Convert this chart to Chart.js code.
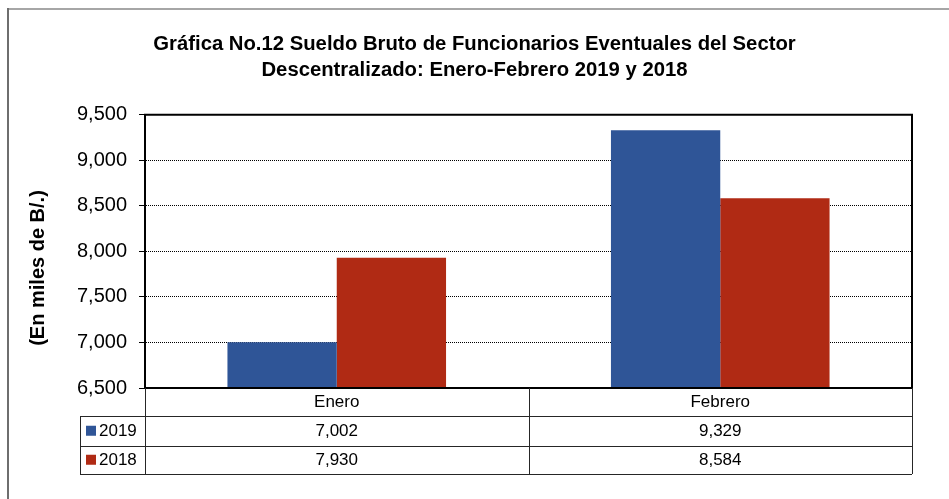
<!DOCTYPE html>
<html>
<head>
<meta charset="utf-8">
<script src="https://cdn.jsdelivr.net/npm/chart.js@4/dist/chart.umd.min.js"></script>
<style>
  html, body { margin: 0; padding: 0; background: #fff; }
  #wrap { width: 949px; height: 499px; }
</style>
</head>
<body>
<div id="wrap"><canvas id="myChart" width="949" height="499"></canvas></div>
<script>
const labels = ['Enero', 'Febrero'];
const seriesNames = ['2019', '2018'];
const values2019 = [7002, 9329];
const values2018 = [7930, 8584];
const seriesColors = ['rgb(47, 85, 151)', 'rgb(176, 42, 20)'];
const yTicks = [6500, 7000, 7500, 8000, 8500, 9000, 9500];

const fontFam = "'Liberation Sans', Arial, sans-serif";

// frame, y title and the data table under the axis
const tablePlugin = {
  id: 'tablePlugin',
  beforeDraw(chart) {
    const ctx = chart.ctx;
    ctx.save();
    ctx.fillStyle = '#fff';
    ctx.fillRect(0, 0, chart.width, chart.height);
    ctx.lineWidth = 2;
    ctx.strokeStyle = '#a6a6a6';
    ctx.beginPath();
    ctx.moveTo(8, 9);
    ctx.lineTo(chart.width, 9);
    ctx.stroke();
    ctx.strokeStyle = '#6e6e6e';
    ctx.beginPath();
    ctx.moveTo(8, 8);
    ctx.lineTo(8, chart.height);
    ctx.stroke();
    ctx.restore();
  },
  afterDatasetsDraw(chart) {
    const ctx = chart.ctx;
    const a = chart.chartArea;
    ctx.save();
    ctx.lineWidth = 2;
    ctx.strokeStyle = '#000';
    ctx.strokeRect(a.left, a.top, a.right - a.left, a.bottom - a.top);
    ctx.restore();
  },
  afterDraw(chart) {
    const ctx = chart.ctx;
    const a = chart.chartArea;
    const x = chart.scales.x;
    const all = [values2019, values2018];

    // y axis title
    ctx.save();
    ctx.translate(38, 268);
    ctx.rotate(-Math.PI / 2);
    ctx.font = 'bold 20px ' + fontFam;
    ctx.fillStyle = '#000';
    ctx.textAlign = 'center';
    ctx.textBaseline = 'middle';
    ctx.fillText('(En miles de B/.)', 0, 0);
    ctx.restore();

    const y0 = a.bottom;
    const rows = [y0 + 28, y0 + 57.5, y0 + 86];
    const keyLeft = 80;
    const mid = (x.getPixelForValue(0) + x.getPixelForValue(1)) / 2;

    ctx.save();
    ctx.strokeStyle = '#262626';
    ctx.lineWidth = 1;
    ctx.beginPath();
    [a.left, mid, a.right].forEach(function (px) {
      ctx.moveTo(Math.round(px) + 0.5, y0);
      ctx.lineTo(Math.round(px) + 0.5, rows[2]);
    });
    ctx.moveTo(keyLeft + 0.5, rows[0]);
    ctx.lineTo(keyLeft + 0.5, rows[2]);
    rows.forEach(function (py) {
      ctx.moveTo(keyLeft, Math.round(py) + 0.5);
      ctx.lineTo(a.right, Math.round(py) + 0.5);
    });
    ctx.stroke();

    ctx.font = '17px ' + fontFam;
    ctx.fillStyle = '#000';
    ctx.textBaseline = 'middle';
    for (let s = 0; s < all.length; s++) {
      const cy = (rows[s] + rows[s + 1]) / 2;
      ctx.fillStyle = seriesColors[s];
      ctx.fillRect(86, cy - 5, 10, 10);
      ctx.fillStyle = '#000';
      ctx.textAlign = 'left';
      ctx.fillText(seriesNames[s], 99, cy + 1);
      ctx.textAlign = 'center';
      for (let i = 0; i < labels.length; i++) {
        ctx.fillText(all[s][i].toLocaleString('en-US'), x.getPixelForValue(i), cy + 1);
      }
    }
    ctx.restore();
  }
};

const data = {
  labels: labels,
  datasets: [{
    label: seriesNames[0],
    backgroundColor: seriesColors[0],
    data: values2019,
  }, {
    label: seriesNames[1],
    backgroundColor: seriesColors[1],
    data: values2018,
  }]
};

const config = {
  type: 'bar',
  data: data,
  plugins: [tablePlugin],
  options: {
    responsive: false,
    animation: false,
    layout: { padding: 0 },
    datasets: {
      bar: { categoryPercentage: 0.57, barPercentage: 1.0 }
    },
    plugins: {
      legend: { display: false },
      tooltip: { enabled: false },
      title: {
        display: true,
        text: ['Gráfica No.12 Sueldo Bruto de Funcionarios Eventuales del Sector',
               'Descentralizado: Enero-Febrero 2019 y 2018'],
        color: '#000',
        font: { family: fontFam, size: 20.3, weight: 'bold', lineHeight: 1.25 },
        padding: { top: 32, bottom: 32 }
      }
    },
    scales: {
      x: {
        afterFit: function (s) { s.height = 111; },
        grid: { display: false, drawTicks: false },
        border: { display: true, color: '#000', width: 2 },
        ticks: {
          color: '#000',
          padding: 4,
          font: { family: fontFam, size: 17 }
        }
      },
      y: {
        min: 6500,
        max: 9500,
        afterFit: function (s) { s.width = 145; },
        afterBuildTicks: function (s) { s.ticks = yTicks.map(v => ({ value: v })); },
        grid: {
          color: '#000',
          lineWidth: 1,
          tickColor: '#000',
          tickLength: 6,
          tickBorderDash: []
        },
        border: { display: true, color: '#000', width: 2, dash: [1, 1] },
        ticks: {
          color: '#000',
          padding: 12,
          font: { family: fontFam, size: 20 },
          callback: function (v) { return Number(v).toLocaleString('en-US'); }
        }
      },
      // empty right margin
      yRight: {
        position: 'right',
        min: 6500,
        max: 9500,
        afterFit: function (s) { s.width = 37; },
        grid: { display: false, drawTicks: false },
        border: { display: false },
        ticks: { display: false }
      }
    }
  }
};

const myChart = new Chart(
  document.getElementById('myChart'),
  config
);
</script>
</body>
</html>
